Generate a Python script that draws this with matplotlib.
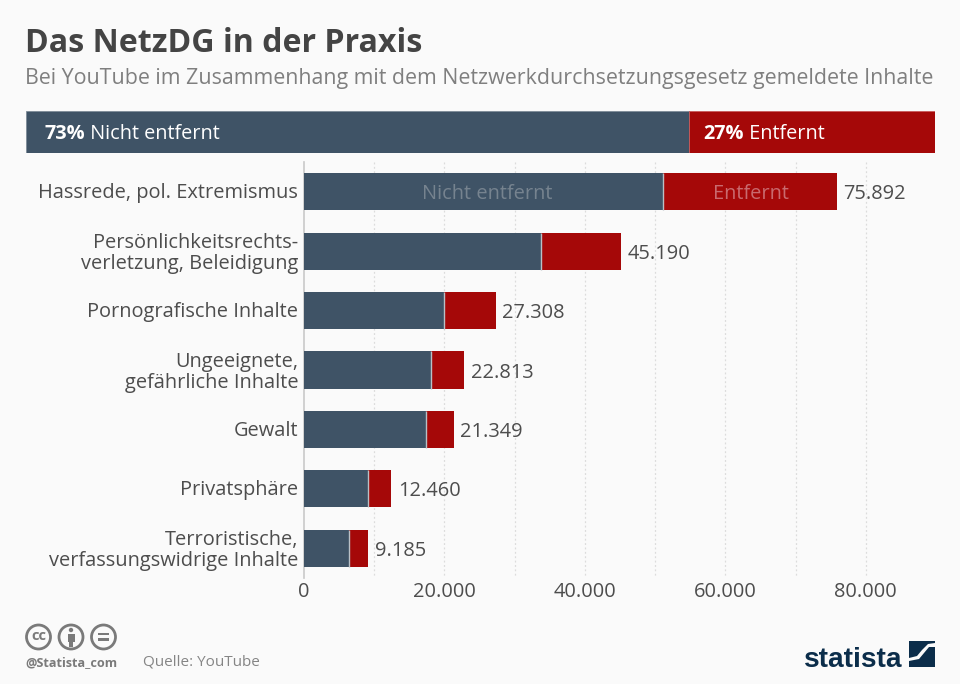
import matplotlib
matplotlib.use('Agg')
import matplotlib.pyplot as plt
from matplotlib.patches import Circle, Polygon, Rectangle
from matplotlib.transforms import ScaledTranslation

plt.rcParams['font.family'] = ['Open Sans', 'DejaVu Sans']

# data
categories = ['Hassrede, pol. Extremismus', 'Persönlichkeitsrechts-\nverletzung, Beleidigung',
              'Pornografische Inhalte', 'Ungeeignete,\ngefährliche Inhalte', 'Gewalt',
              'Privatsphäre', 'Terroristische,\nverfassungswidrige Inhalte']
nicht_entfernt = [51100, 33760, 19940, 18100, 17400, 9100, 6400]
totals = [75892, 45190, 27308, 22813, 21349, 12460, 9185]
total_labels = ['75.892', '45.190', '27.308', '22.813', '21.349', '12.460', '9.185']
xticks = [0, 20000, 40000, 60000, 80000]
xticklabels = ['0', '20.000', '40.000', '60.000', '80.000']
gridticks = [10000, 20000, 30000, 40000, 50000, 60000, 70000, 80000]
share_nicht = 72.9
share_entfernt = 27.1

BG = '#fafafa'
BLUE = '#3f5366'
RED = '#a50808'
TEXT = '#4d4d4d'
W, H = 960, 684

fig = plt.figure(figsize=(9.6, 6.84), dpi=100, facecolor=BG)


def px_axes(left, top, right, bottom):
    return fig.add_axes([left / W, 1 - bottom / H, (right - left) / W, (bottom - top) / H])


## overlay in pixel coordinates for title, footer and logo
over = fig.add_axes([0, 0, 1, 1], zorder=5)
over.set_xlim(0, W)
over.set_ylim(H, 0)
over.axis('off')

over.text(25, 44, 'Das NetzDG in der Praxis', fontsize=23.1, fontweight='bold', color='#444444', va='center')
over.text(25, 78.5, 'Bei YouTube im Zusammenhang mit dem Netzwerkdurchsetzungsgesetz gemeldete Inhalte',
          fontsize=15.42, color='#7f7f7f', va='center')

## share bar on top
top = px_axes(26, 111, 935, 153)
top.barh(0, share_nicht, height=1, color=BLUE, edgecolor='#7d8b98', linewidth=0.6)
top.barh(0, share_entfernt, left=share_nicht, height=1, color=RED, edgecolor='#c95a5a', linewidth=0.6)
top.set_xlim(0, share_nicht + share_entfernt)
top.set_ylim(-0.5, 0.5)
top.axis('off')


def mixed_label(x, bold, normal):
    t = top.text(x, 0.015, bold, fontsize=14.3, fontweight='bold', color='white', va='center_baseline')
    top.annotate(' ' + normal, xy=(1, 0), xycoords=t, fontsize=14.3, color='white', va='bottom')


mixed_label(2.0, '73%', 'Nicht entfernt')
mixed_label(74.5, '27%', 'Entfernt')

## main chart
ax = px_axes(304, 162, 936, 578)
ax.set_facecolor('none')
y = list(range(len(categories)))
entfernt = [t - n for t, n in zip(totals, nicht_entfernt)]

ax.vlines(gridticks, -0.5, 6.5, color='#dcdcdc', lw=0.9, linestyles=(0, (1.5, 2)), zorder=1)
ax.barh(y, nicht_entfernt, height=0.625, color=BLUE, zorder=3)
ax.barh(y, entfernt, left=nicht_entfernt, height=0.625, color=RED, zorder=3)
ax.vlines(nicht_entfernt, [i - 0.3125 for i in y], [i + 0.3125 for i in y], color='#b9c0c6', lw=1, zorder=4)

for i, (t, lab) in enumerate(zip(totals, total_labels)):
    ax.annotate(lab, (t, i), xytext=(4.7, 0), textcoords='offset points', fontsize=14.4,
                color=TEXT, va='center_baseline')

ax.text(nicht_entfernt[0] / 2 + 500, 0, 'Nicht entfernt', color='#76838f', fontsize=14.4,
        ha='center', va='center_baseline', zorder=5)
ax.text(nicht_entfernt[0] + entfernt[0] / 2 + 150, 0, 'Entfernt', color='#c96a6e', fontsize=14.4,
        ha='center', va='center_baseline', zorder=5)

ax.set_xlim(0, 90000)
ax.set_ylim(6.5, -0.5)
ax.set_yticks(y)
ax.set_yticklabels(categories, fontsize=14.4, color=TEXT, linespacing=1.1)
ax.set_xticks(xticks)
ax.set_xticklabels(xticklabels, fontsize=14.4, color=TEXT)
ax.tick_params(length=0, axis='both')
ax.tick_params(axis='y', pad=4.2)
ax.tick_params(axis='x', pad=2.6)
# category labels sit a pixel higher than centre
for label in ax.get_yticklabels():
    label.set_transform(label.get_transform() + ScaledTranslation(0, 1 / 100, fig.dpi_scale_trans))
for s in ['top', 'right', 'bottom']:
    ax.spines[s].set_visible(False)
ax.spines['left'].set_color('#c9c9c9')
ax.spines['left'].set_linewidth(1.2)

## footer
ICON = '#7a7a7a'
for cx in [38.5, 71, 103.5]:
    over.add_patch(Circle((cx, 637), 12, fc='none', ec=ICON, lw=2))
over.text(38.5, 636.5, 'cc', fontsize=10.5, fontweight='bold', color=ICON, ha='center', va='center')
over.add_patch(Circle((71, 630), 2.2, fc=ICON, ec='none'))
over.add_patch(Rectangle((67.5, 633.5), 7, 8, fc=ICON, ec='none'))
over.add_patch(Rectangle((69, 641), 4, 6, fc=ICON, ec='none'))
over.add_patch(Rectangle((98, 632.8), 11, 2.6, fc=ICON, ec='none'))
over.add_patch(Rectangle((98, 638.4), 11, 2.6, fc=ICON, ec='none'))
over.text(25, 662.5, '@Statista_com', fontsize=9.1, fontweight='bold', color=ICON, va='center')
over.text(143, 661.5, 'Quelle: YouTube', fontsize=11, color='#858585', va='center')

## logo
LOGO = '#0b2d4a'
over.text(803.5, 667, 'statista', family=['Liberation Sans Narrow', 'Liberation Sans'], fontsize=20.2,
          fontweight='bold', color=LOGO, va='baseline')
over.add_patch(Polygon([(909, 641), (935, 641), (935, 643), (928, 644), (922, 650), (917, 656), (909, 658)],
                       fc=LOGO, ec='none'))
over.add_patch(Polygon([(935, 647), (929, 647), (924, 653), (919, 659), (909, 661), (909, 667), (935, 667)],
                       fc=LOGO, ec='none'))

fig.savefig('out.png', dpi=100, facecolor=BG)
